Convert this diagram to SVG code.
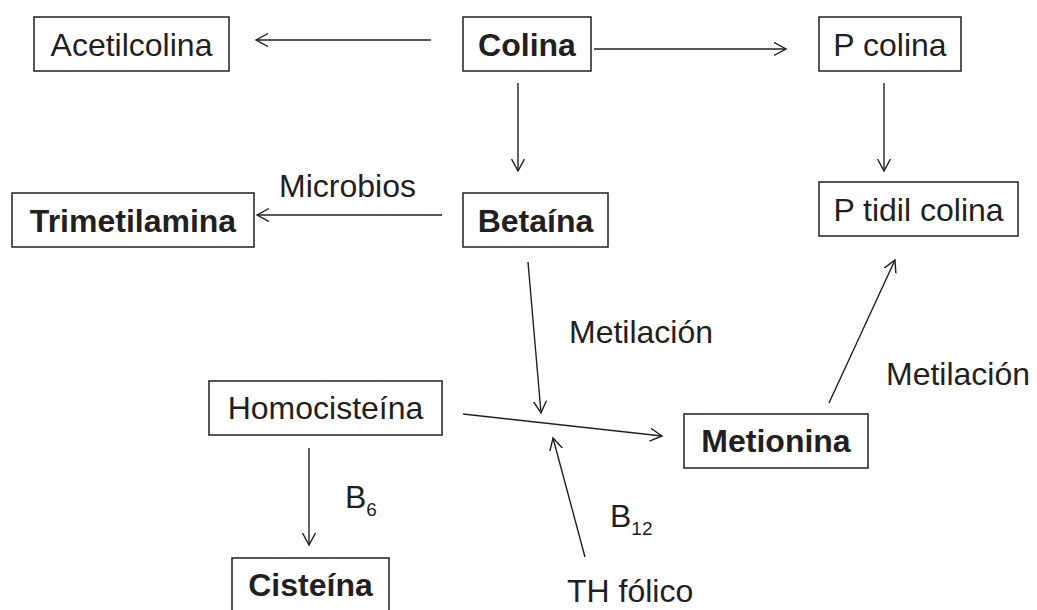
<svg xmlns="http://www.w3.org/2000/svg" width="1037" height="610" viewBox="0 0 1037 610">
<defs>
<style>
.box{fill:#fff;stroke:#231f20;stroke-width:1.5}
.t{font-family:"Liberation Sans",Arial,sans-serif;font-size:32px;fill:#231f20}
.b{font-weight:bold}
.c{stroke:#231f20;stroke-width:1.4;fill:none;marker-end:url(#ah)}
.sub{font-size:19px}
</style>
<marker id="ah" markerUnits="userSpaceOnUse" markerWidth="16" markerHeight="16" refX="12" refY="7" orient="auto">
<path d="M0,0.5 L12,7 L0,13.5" fill="none" stroke="#231f20" stroke-width="1.4"/>
</marker>
</defs>
<rect width="1037" height="610" fill="#fff"/>
<g id="connectors">
<line class="c" x1="431" y1="40" x2="256" y2="40"/>
<line class="c" x1="594" y1="49" x2="786" y2="49"/>
<line class="c" x1="518" y1="83" x2="518" y2="171"/>
<line class="c" x1="884" y1="83" x2="884" y2="171"/>
<line class="c" x1="442" y1="215" x2="257" y2="215"/>
<line class="c" x1="528" y1="262" x2="541" y2="413"/>
<line class="c" x1="463" y1="414" x2="662" y2="436"/>
<line class="c" x1="585" y1="557" x2="553" y2="438"/>
<line class="c" x1="309" y1="448" x2="309" y2="545"/>
<line class="c" x1="829" y1="403" x2="895" y2="260"/>
</g>
<g id="acetilcolina"><rect class="box" x="34" y="17" width="195" height="54"/><text class="t" x="131.5" y="56" text-anchor="middle">Acetilcolina</text></g>
<g id="colina"><rect class="box" x="463" y="17" width="128" height="54"/><text class="t b" x="527" y="56" text-anchor="middle">Colina</text></g>
<g id="p-colina"><rect class="box" x="819" y="17" width="142" height="54"/><text class="t" x="890" y="56" text-anchor="middle">P colina</text></g>
<g id="trimetilamina"><rect class="box" x="12" y="193" width="242" height="54"/><text class="t b" x="133" y="232" text-anchor="middle">Trimetilamina</text></g>
<g id="betaina"><rect class="box" x="463" y="193" width="145" height="54"/><text class="t b" x="535.5" y="232" text-anchor="middle">Betaína</text></g>
<g id="p-tidil-colina"><rect class="box" x="819" y="182" width="199" height="54"/><text class="t" x="918.5" y="221" text-anchor="middle">P tidil colina</text></g>
<g id="homocisteina"><rect class="box" x="209" y="381" width="233" height="54"/><text class="t" x="325.5" y="419" text-anchor="middle">Homocisteína</text></g>
<g id="metionina"><rect class="box" x="684" y="414" width="184" height="54"/><text class="t b" x="776" y="452" text-anchor="middle">Metionina</text></g>
<g id="cisteina"><rect class="box" x="232" y="558" width="157" height="60"/><text class="t b" x="310.5" y="596" text-anchor="middle">Cisteína</text></g>
<g id="labels">
<text class="t" x="279" y="197">Microbios</text>
<text class="t" x="569" y="343">Metilación</text>
<text class="t" x="886" y="385">Metilación</text>
<text class="t" x="345" y="508">B<tspan class="sub" dy="8">6</tspan></text>
<text class="t" x="610" y="527">B<tspan class="sub" dy="8">12</tspan></text>
<text class="t" x="567" y="602">TH fólico</text>
</g>
</svg>
